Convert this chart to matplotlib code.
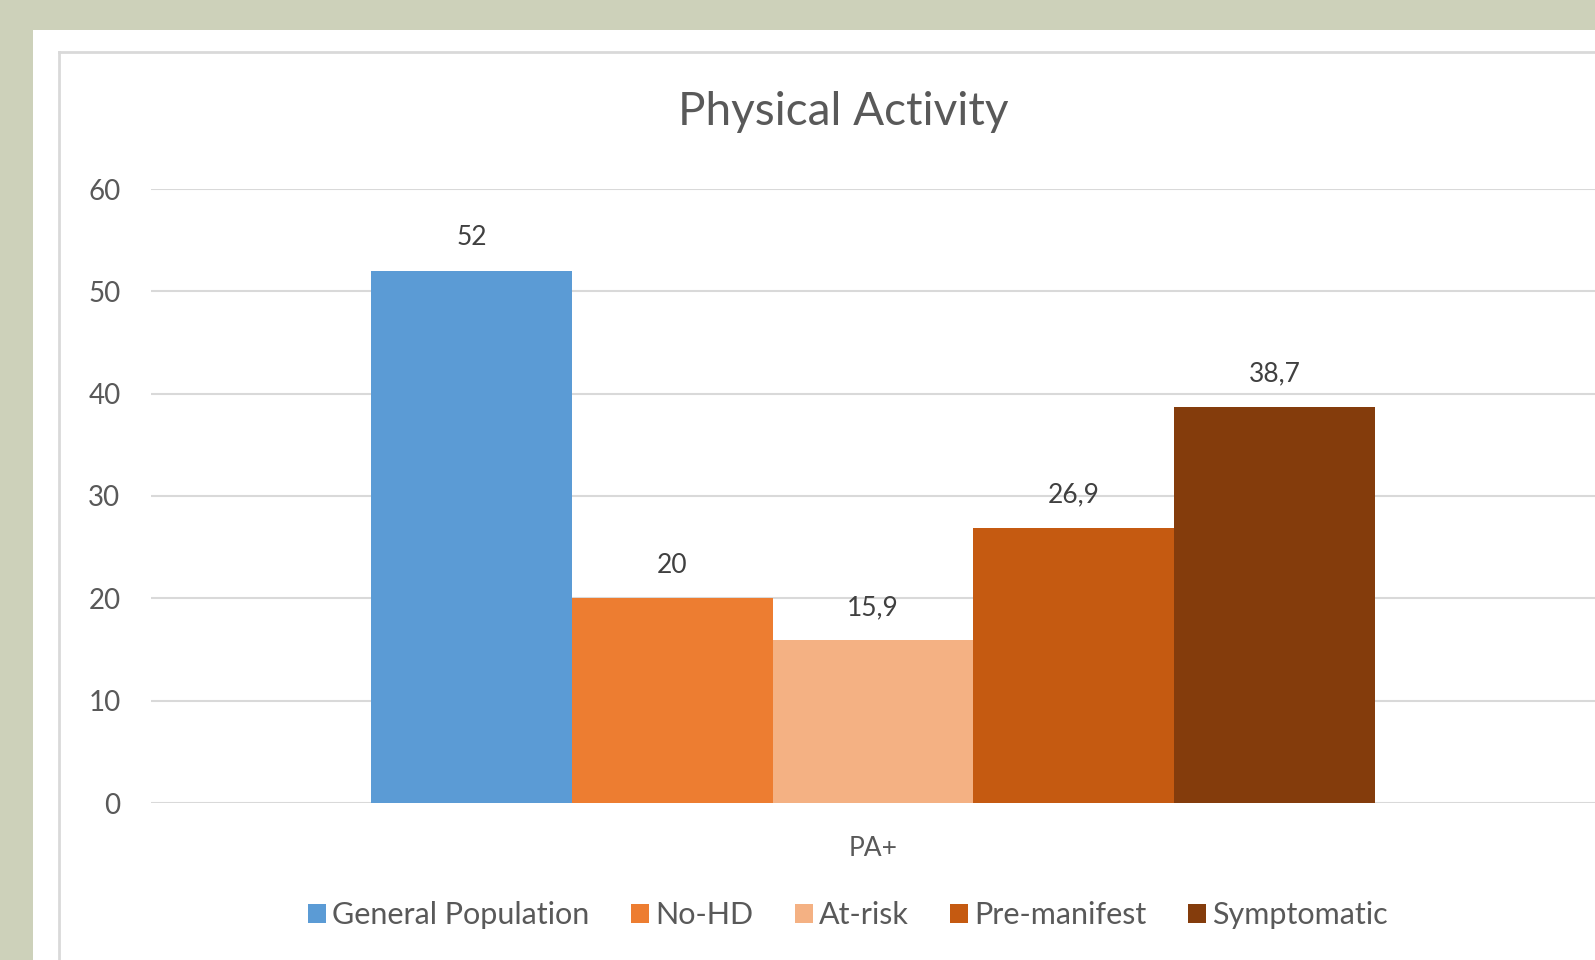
import matplotlib.pyplot as plt
from matplotlib.patches import Rectangle, Patch
from matplotlib.lines import Line2D

plt.rcParams['font.family'] = ['Lato', 'DejaVu Sans']

category = "PA+"
groups = ["General Population", "No-HD", "At-risk", "Pre-manifest", "Symptomatic"]
values = [52, 20, 15.9, 26.9, 38.7]
value_labels = ["52", "20", "15,9", "26,9", "38,7"]
colors = ["#5B9BD5", "#ED7D31", "#F4B183", "#C55A11", "#843C0C"]
yticks = [0, 10, 20, 30, 40, 50, 60]

W, H = 1595, 960
fig = plt.figure(figsize=(W / 100, H / 100), dpi=100, facecolor="#CDD1BA")

# white slide panel and chart border
fig.patches.append(Rectangle((33 / W, 0), 1, 1 - 30 / H, transform=fig.transFigure,
                             facecolor="white", edgecolor="none", zorder=-2))
fig.lines.append(Line2D([59 / W, 59 / W], [0, 1 - 52 / H], transform=fig.transFigure,
                        color="#D9D9D9", lw=2, zorder=-1))
fig.lines.append(Line2D([59 / W, 1], [1 - 52 / H, 1 - 52 / H], transform=fig.transFigure,
                        color="#D9D9D9", lw=2, zorder=-1))

ax = fig.add_axes([151 / W, 157 / H, 1 - 151 / W, (803 - 189) / H])
ax.set_facecolor("none")
ax.set_zorder(1)

bw = 0.139
for i, (g, v, c, lab) in enumerate(zip(groups, values, colors, value_labels)):
    x = (i - 2) * bw
    ax.bar(x, v, width=bw, color=c, label=g, zorder=3)
    ax.text(x, v + 2.0, lab, ha="center", va="bottom", fontsize=19, color="#404040")

ax.set_xlim(-0.5, 0.5)
ax.set_ylim(0, 60)
ax.set_yticks(yticks)
ax.set_yticklabels([str(t) for t in yticks], fontsize=20, color="#595959")
ax.set_xticks([0])
ax.set_xticklabels([category], fontsize=19, color="#595959")
ax.tick_params(axis="both", length=0)
ax.tick_params(axis="y", pad=22)
ax.tick_params(axis="x", pad=24)
ax.grid(axis="y", color="#D9D9D9", lw=1.5, zorder=0)
for s in ax.spines.values():
    s.set_visible(False)

fig.text(843 / W, 1 - 112 / H, "Physical Activity", ha="center", va="center",
         fontsize=33, color="#595959")

handles = [Patch(facecolor=c, label=g) for g, c in zip(groups, colors)]
fig.legend(handles=handles, loc="center", bbox_to_anchor=(848 / W, 1 - 915 / H), ncol=5,
           frameon=False, fontsize=22, handlelength=0.6, handleheight=0.6,
           handletextpad=0.2, columnspacing=1.35, labelcolor="#595959")

fig.savefig("out.png", dpi=100, facecolor=fig.get_facecolor())
